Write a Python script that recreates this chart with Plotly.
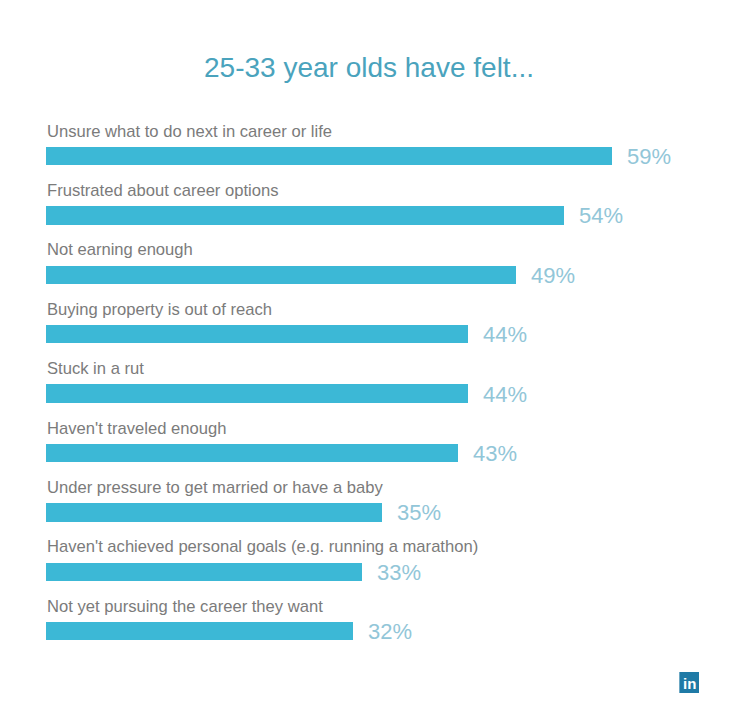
import plotly.graph_objects as go

categories = [
    "Unsure what to do next in career or life",
    "Frustrated about career options",
    "Not earning enough",
    "Buying property is out of reach",
    "Stuck in a rut",
    "Haven't traveled enough",
    "Under pressure to get married or have a baby",
    "Haven't achieved personal goals (e.g. running a marathon)",
    "Not yet pursuing the career they want",
]
values = [59, 54, 49, 44, 44, 43, 35, 33, 32]
title_text = "25-33 year olds have felt..."

BAR = "#3cb8d6"
TITLE = "#4aa3bd"
VAL = "#92c6d8"
LAB = "#7b7b7b"

pos = list(range(len(categories)))

fig = go.Figure()
fig.add_trace(go.Bar(
    x=values, y=pos, orientation="h", width=0.31,
    marker=dict(color=BAR, line=dict(width=0)),
    hoverinfo="skip",
))

for i, (c, v) in enumerate(zip(categories, values)):
    fig.add_annotation(x=0, y=i - 0.42, text=c, showarrow=False,
                       xanchor="left", yanchor="middle", xshift=-1,
                       font=dict(family="Liberation Sans, Arial", size=16.6, color=LAB))
    fig.add_annotation(x=v, y=i + 0.01, text=f"{v}%", showarrow=False,
                       xanchor="left", yanchor="middle", xshift=13,
                       font=dict(family="Liberation Sans, Arial", size=22, color=VAL))

# LinkedIn logo
fig.add_shape(type="rect", xref="paper", yref="paper",
              x0=676 / 729, x1=697 / 729, y0=1 - 693 / 720, y1=1 - 672 / 720,
              fillcolor="#1f7aa6", line=dict(width=0))
fig.add_annotation(xref="paper", yref="paper", x=686.5 / 729, y=1 - 683 / 720,
                   text="<b>in</b>", showarrow=False, xanchor="center", yanchor="middle",
                   font=dict(family="Liberation Sans, Arial", size=15, color="white"))

fig.update_layout(
    width=729, height=720,
    margin=dict(l=46, r=0, t=0, b=0),
    paper_bgcolor="white", plot_bgcolor="white",
    showlegend=False,
    title=dict(text=title_text, x=369 / 729, xanchor="center",
               y=1 - 67 / 720, yanchor="middle",
               font=dict(family="Liberation Sans, Arial", size=28, color=TITLE)),
    xaxis=dict(range=[0, 683 / 9.59], visible=False, fixedrange=True),
    yaxis=dict(range=[(720 - 156) / 59.4, -156 / 59.4], visible=False, fixedrange=True),
    bargap=0,
)

fig.write_html("out.html")
